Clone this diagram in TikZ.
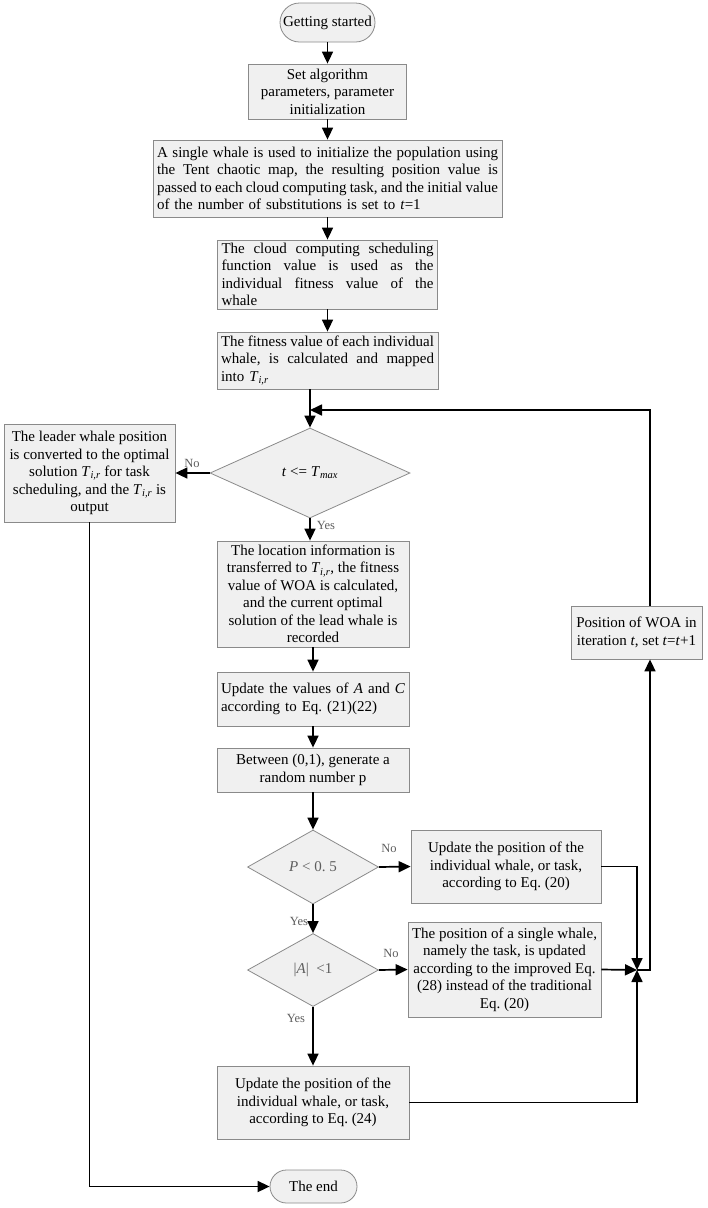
\documentclass[tikz,border=0pt]{standalone}
\usepackage{fontspec}
\setmainfont{Liberation Serif}
\usetikzlibrary{arrows.meta,positioning,calc,shapes.geometric,shapes.misc}
\definecolor{Ink}{HTML}{000000}
\definecolor{Edge}{HTML}{8A8A8A}
\definecolor{Face}{HTML}{F0F0F0}
\definecolor{Muted}{HTML}{5E5E5E}
\frenchspacing
\newlength{\rowwidth}
\newcommand{\Tir}{\textit{T}\textsubscript{\textit{i,r}}}
\newcommand{\fillline}[1]{\makebox[\rowwidth][s]{\spaceskip=.25em plus .6em minus .14em\relax #1}}
\tikzset{
  stepbox/.style={draw=Edge,fill=Face,line width=0.8pt,inner xsep=4pt,inner ysep=0.5pt,align=center,font=\fontsize{15}{17.5}\selectfont},
  justbox/.style={stepbox,align=left,text width=#1,execute at begin node={\setlength{\rowwidth}{#1}}},
  terminal/.style={stepbox,rounded rectangle},
  decide/.style={diamond,draw=Edge,fill=Face,line width=0.8pt,inner sep=0pt,font=\fontsize{15}{17.5}\selectfont},
  arrow/.style={-{Triangle[length=12pt,width=11pt]},line width=1.7pt,draw=Ink},
  answer/.style={font=\fontsize{12.5}{14}\selectfont,text=Muted,inner sep=0pt}
}

\begin{document}
\begin{tikzpicture}[x=1pt,y=-1pt]
  \useasboundingbox (0,0) rectangle (708,1208);
  % main column
  \node[terminal,minimum width=103pt,minimum height=39pt] (start) at (327.5,22.5) {Getting started};
  \node[stepbox,minimum width=158pt,minimum height=55pt] (set) at (327.5,91.5) {Set algorithm\\parameters, parameter\\initialization};
  \node[justbox=341pt,minimum height=77pt] (init) at (327.5,178.5) {\fillline{A single whale is used to initialize the population using}\\\fillline{the Tent chaotic map, the resulting position value is}\\\fillline{passed to each cloud computing task, and the initial value}\\of the number of substitutions is set to \textit{t}=1};
  \node[justbox=212pt,minimum height=69pt] (fitfun) at (327.5,274.5) {\fillline{The cloud computing scheduling}\\\fillline{function value is used as the}\\\fillline{individual fitness value of the}\\whale};
  \node[justbox=213pt,minimum height=57pt] (fitmap) at (327.5,360.5) {\fillline{The fitness value of each individual}\\\fillline{whale, is calculated and mapped}\\into \Tir};
  \node[decide,minimum width=200pt,minimum height=90pt] (cond1) at (310,473) {\textit{t} <= \textit{T}\textsubscript{\textit{max}}};
  \node[stepbox,minimum width=171pt,minimum height=98pt] (output) at (89.5,473) {The leader whale position\\is converted to the optimal\\solution \Tir{} for task\\scheduling, and the \Tir{} is\\output};
  \node[stepbox,minimum width=192pt,minimum height=106pt] (locate) at (313,594) {The location information is\\transferred to \Tir, the fitness\\value of WOA is calculated,\\and the current optimal\\solution of the lead whale is\\recorded};
  \node[justbox=184pt,minimum height=54pt] (updAC) at (313,699) {\fillline{Update the values of \textit{A} and \textit{C}}\\according to Eq. (21)(22)};
  \node[stepbox,minimum width=192pt,minimum height=44pt] (rand) at (313,770) {Between (0,1), generate a\\random number p};
  \node[decide,minimum width=131pt,minimum height=74pt,text=Muted] (cond2) at (313,867) {\textit{P} < 0. 5};
  \node[decide,minimum width=131pt,minimum height=73pt,text=Muted] (cond3) at (313,970) {|\textit{A}|\ \ <1};
  \node[stepbox,minimum width=192pt,minimum height=73pt] (upd24) at (313,1102.5) {Update the position of the\\individual whale, or task,\\according to Eq. (24)};
  \node[terminal,minimum width=95pt,minimum height=33pt] (end) at (313.5,1186.5) {The end};
  % right branches
  \node[stepbox,minimum width=190pt,minimum height=73pt] (upd20) at (506,866.5) {Update the position of the\\individual whale, or task,\\according to Eq. (20)};
  \node[stepbox,minimum width=193pt,minimum height=95pt] (upd28) at (504.5,969.5) {The position of a single whale,\\namely the task, is updated\\according to the improved Eq.\\(28) instead of the traditional\\Eq. (20)};
  \node[stepbox,minimum width=131pt,minimum height=53pt] (woa) at (636.5,632.5) {Position of WOA in\\iteration \textit{t}, set \textit{t}=\textit{t}+1};
  \coordinate (jn) at (637,970);
  \coordinate (rail) at (650,970);
  \coordinate (back) at (310,410);
  % labels
  \node[answer] (no1) at (192,463) {No};
  \node[answer] (yes1) at (326,525) {Yes};
  \node[answer] (no2) at (389,848) {No};
  \node[answer] (yes2) at (299,921) {Yes};
  \node[answer] (no3) at (391,953) {No};
  \node[answer] (yes3) at (296,1018) {Yes};
  % connectors
  \draw[arrow] (start.south) -- (set.north);
  \draw[arrow] (set.south) -- (init.north);
  \draw[arrow] (init.south) -- (fitfun.north);
  \draw[arrow] (fitfun.south) -- (fitmap.north);
  \draw[arrow] (fitmap.south -| cond1.north) -- (cond1.north);
  \draw[arrow] (cond1.west) -- (output.east);
  \draw[arrow] (cond1.south) -- (cond1.south |- locate.north);
  \draw[arrow] (locate.south) -- (updAC.north);
  \draw[arrow] (updAC.south) -- (rand.north);
  \draw[arrow] (rand.south) -- (cond2.north);
  \draw[arrow] (cond2.east) -- (upd20.west);
  \draw[arrow] (cond2.south) -- (cond3.north);
  \draw[arrow] (cond3.east) -- (upd28.west);
  \draw[arrow] (cond3.south) -- (upd24.north);
  \draw[arrow] (upd20.east) -| (jn);
  \draw[arrow] (upd28.east) -- (jn);
  \draw[arrow] (upd24.east) -| (jn);
  \draw[arrow] (jn) -- (rail) -- (rail |- woa.south);
  \draw[arrow] (rail |- woa.north) -- (rail |- back) -- (back);
  \draw[arrow] (output.south) |- (end.west);
\end{tikzpicture}
\end{document}
